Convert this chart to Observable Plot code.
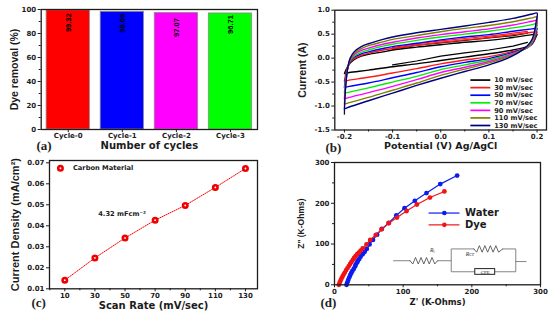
<!DOCTYPE html>
<html>
<head>
<meta charset="utf-8">
<script src="https://cdn.jsdelivr.net/npm/d3@7"></script>
<script src="https://cdn.jsdelivr.net/npm/@observablehq/plot@0.6"></script>
<style>
html,body{margin:0;padding:0;background:#fff;}
#root{position:relative;width:550px;height:313px;overflow:hidden;}
#root svg{position:absolute;display:block;overflow:visible;background:transparent;}
</style>
</head>
<body>
<div id="root"></div>
<script>
// Panel (a)
const cycles = ["Cycle-0","Cycle-1","Cycle-2","Cycle-3"];
const removal = [99.32,98.06,97.07,96.71];
const removalLabelY = [89,88.5,85,87.5];
const barColors = ["#ff0000","#0000ff","#ff00ff","#00ff00"];

// Panel (b)
const scanNames = ["10 mV/sec","30 mV/sec","50 mV/sec","70 mV/sec","90 mV/sec","110 mV/sec","130 mV/sec"];
const scanColors = ["#000000","#ff1a1a","#0000ff","#00ee00","#ff00ff","#808000","#000080"];
const upperX = [-0.2,-0.197,-0.193,-0.188,-0.18,-0.165,-0.15,-0.12,-0.1,-0.05,0,0.05,0.1,0.15,0.19,0.2];
const upper10  = [-0.32,-0.25,-0.17,-0.1,-0.03,0.04,0.08,0.13,0.17,0.23,0.28,0.33,0.37,0.43,0.49,0.5];
const upper30  = [-0.48,-0.32,-0.18,-0.08,-0.01,0.06,0.1,0.17,0.2,0.27,0.33,0.38,0.43,0.49,0.54,0.55];
const upper50  = [-0.61,-0.37,-0.2,-0.06,0.02,0.09,0.13,0.2,0.24,0.31,0.38,0.44,0.49,0.56,0.61,0.62];
const upper70  = [-0.73,-0.42,-0.2,-0.05,0.04,0.12,0.17,0.25,0.29,0.37,0.44,0.5,0.56,0.63,0.7,0.72];
const upper90  = [-0.85,-0.47,-0.2,-0.03,0.07,0.16,0.21,0.29,0.33,0.42,0.49,0.55,0.61,0.69,0.77,0.79];
const upper110 = [-0.96,-0.52,-0.2,-0.02,0.1,0.2,0.26,0.34,0.39,0.47,0.55,0.62,0.68,0.76,0.84,0.86];
const upper130 = [-1.06,-0.55,-0.2,0,0.13,0.24,0.3,0.39,0.44,0.53,0.6,0.67,0.745,0.83,0.92,0.94];
const lowerX = [0.2,0.198,0.195,0.19,0.18,0.15,0.1,0.05,0,-0.05,-0.1,-0.15,-0.19,-0.2];
const lower10  = [0.5,0.45,0.38,0.3,0.24,0.17,0.09,0.02,-0.05,-0.12,-0.18,-0.25,-0.3,-0.32];
const lower30  = [0.55,0.5,0.41,0.3,0.22,0.14,0.03,-0.04,-0.12,-0.22,-0.31,-0.4,-0.46,-0.48];
const lower50  = [0.62,0.55,0.44,0.31,0.22,0.12,-0.01,-0.09,-0.18,-0.3,-0.41,-0.52,-0.59,-0.61];
const lower70  = [0.72,0.6,0.47,0.33,0.22,0.1,-0.04,-0.14,-0.24,-0.38,-0.5,-0.62,-0.71,-0.73];
const lower90  = [0.79,0.65,0.5,0.35,0.23,0.09,-0.07,-0.19,-0.3,-0.45,-0.59,-0.72,-0.82,-0.85];
const lower110 = [0.86,0.7,0.53,0.37,0.24,0.07,-0.1,-0.23,-0.36,-0.52,-0.67,-0.82,-0.93,-0.96];
const lower130 = [0.94,0.75,0.57,0.4,0.26,0.05,-0.14,-0.28,-0.42,-0.57,-0.73,-0.89,-1.02,-1.06];
const upperAll = [upper10,upper30,upper50,upper70,upper90,upper110,upper130];
const lowerAll = [lower10,lower30,lower50,lower70,lower90,lower110,lower130];
// extra traces of the slow sweep and of the 30 mV/sec sweep, right of centre
const extraX = [-0.1,-0.05,0,0.05,0.1,0.15,0.18];
const extra10Upper = [0.19,0.27,0.32,0.37,0.42,0.47,0.52];
const extra10Lower = [-0.14,-0.06,0.04,0.11,0.17,0.25,0.33];
const extra30Upper = [0.22,0.3,0.36,0.41,0.46,0.52,0.56];

// Panel (c)
const scanRate = [10,30,50,70,90,110,130];
const density = [0.0141,0.0247,0.0342,0.0427,0.0497,0.0583,0.0673];

// Panel (d)
const waterX = [178.6,154,134,117,102,90,79,69,62,56,51,47,44,41,38,36,34,33,31,30,28,26,24.5,23,21.5,20,18.7,17.5];
const waterY = [268,247,225,206,188,170,152,137,123,110,99,88,81,75,69,63,59,55,50,45,39,34,29,24,18,12,6,0];
const dyeX = [160,139,120,105,91,79,68.5,60,52,46.6,41,38,35.5,33,30.6,28.6,26.7,24.7,22.8,20.9,19,17,15,13.3,11.6,10.1,8.7,7.5,6.3];
const dyeY = [229,214,197,181,165,151,136,122,110,99,89,84,79,75,70,66,61,56,51,46,41,36,30,25,20,15,10,5,0];

// Circuit inset of panel (d), in the panel's Z' / Z'' units
const wireParts = [
  [[86,59],[110,59]],
  [[150,59],[170,59],[170,88],[203,88]],
  [[170,59],[170,32],[205,32]],
  [[234,32],[264,32],[264,88],[245,88]],
  [[264,57],[279,57]]
];
const rsZig = [[110,59],[114,51],[118,67],[122,51],[126,67],[130,51],[134,67],[138,51],[142,67],[146,51],[150,59]];
const rctZig = [[203,88],[207,80],[211,96],[215,80],[219,96],[223,80],[227,96],[231,80],[235,96],[239,80],[245,88]];

const ink = "#1c1c1c";
const tickFont = {fontFamily:"DejaVu Sans",fontWeight:700,fontSize:"7px",color:ink,background:"transparent"};
const noText = ()=>"";

function place(plot,left,top){
  plot.style.left = left+"px";
  plot.style.top = top+"px";
  document.getElementById("root").appendChild(plot);
}
const yTitle = (t,dx,size)=>Plot.text([t],{frameAnchor:"left",textAnchor:"middle",text:d=>d,rotate:-90,dx,fontSize:size,fontFamily:"Liberation Sans",fontWeight:700,fill:ink});
const xTitle = (t,dy,size)=>Plot.text([t],{frameAnchor:"bottom",lineAnchor:"middle",text:d=>d,dy,fontSize:size,fontFamily:"DejaVu Sans",fontWeight:700,fill:ink});
const letter = (t,dx,dy)=>Plot.text([t],{frameAnchor:"bottom-left",lineAnchor:"middle",text:d=>d,textAnchor:"start",dx,dy,fontSize:13,fontFamily:"Liberation Serif",fontWeight:700,fill:"#222"});
const frame = ()=>Plot.frame({stroke:ink,strokeWidth:1.3});

// ---------- (a)
const aRows = cycles.map((c,i)=>({c,v:removal[i],ly:removalLabelY[i],col:barColors[i]}));
place(Plot.plot({
  width:275,height:157,marginLeft:40.7,marginRight:18,marginTop:9,marginBottom:28,
  style:tickFont,
  x:{type:"band",domain:cycles,paddingInner:0.2,paddingOuter:0.1,round:false,label:null},
  y:{domain:[0,100],label:null},
  marks:[
    Plot.barY(aRows,{x:"c",y:"v",fill:"col",stroke:"#8a8a8a",strokeWidth:0.8}),
    Plot.text(aRows,{x:"c",y:"ly",text:d=>d.v.toFixed(2),rotate:-90,fontSize:7.5,fontFamily:"Liberation Sans",fontWeight:700,fill:"#000"}),
    frame(),
    Plot.axisY({ticks:[0,20,40,60,80,100],tickSize:3,tickPadding:2,label:null}),
    Plot.axisY({ticks:[10,30,50,70,90],tickSize:2,tickFormat:noText,label:null}),
    Plot.axisX({tickSize:3,tickPadding:1,label:null}),
    yTitle("Dye removal (%)",-27,10.5),
    xTitle("Number of cycles",16,10),
    letter("(a)",-4.7,16)
  ]
}),0,0);

// ---------- (b)
const loopRows = scanNames.flatMap((s,k)=>[
  ...upperX.map((x,i)=>({s,x,y:upperAll[k][i]})),
  ...lowerX.slice(1).map((x,i)=>({s,x,y:lowerAll[k][i+1]}))
]);
const extraRows = [
  ...extraX.map((x,i)=>({s:scanNames[0],k:"a",x,y:extra10Upper[i]})),
  ...extraX.map((x,i)=>({s:scanNames[0],k:"b",x,y:extra10Lower[i]})),
  ...extraX.map((x,i)=>({s:scanNames[1],k:"c",x,y:extra30Upper[i]}))
];
const legendRows = scanNames.map((s,i)=>({s,col:scanColors[i],y:-0.458-0.158*i}));
place(Plot.plot({
  width:275,height:157,marginLeft:59.3,marginRight:4,marginTop:9.7,marginBottom:27.5,
  style:tickFont,
  x:{domain:[-0.22,0.2196],label:null},
  y:{domain:[-1.5,1],label:null},
  color:{domain:scanNames,range:scanColors},
  marks:[
    Plot.line(extraRows,{x:"x",y:"y",z:"k",stroke:"s",strokeWidth:1.2}),
    Plot.line(loopRows,{x:"x",y:"y",z:"s",stroke:"s",strokeWidth:1.4,curve:"catmull-rom"}),
    Plot.ruleX([-0.2],{y1:-1.06,y2:-1.19,stroke:"#101030",strokeWidth:1.3}),
    Plot.link(legendRows,{x1:()=>0.0615,x2:()=>0.103,y1:"y",y2:"y",stroke:d=>d.col,strokeWidth:1.7}),
    Plot.text(legendRows,{x:()=>0.111,y:"y",text:"s",textAnchor:"start",fontSize:6.7,fontFamily:"DejaVu Sans",fontWeight:700,fill:ink}),
    frame(),
    Plot.axisY({ticks:[-1.5,-1,-0.5,0,0.5,1],tickSize:3,tickPadding:2,tickFormat:d=>d.toFixed(1),label:null}),
    Plot.axisY({ticks:[-1.25,-0.75,-0.25,0.25,0.75],tickSize:2,tickFormat:noText,label:null}),
    Plot.axisX({ticks:[-0.2,-0.1,0,0.1,0.2],tickSize:3,tickPadding:1,tickFormat:d=>d.toFixed(1),label:null}),
    Plot.axisX({ticks:[-0.15,-0.05,0.05,0.15],tickSize:2,tickFormat:noText,label:null}),
    yTitle("Current (A)",-32,10.5),
    xTitle("Potential (V) Ag/AgCl",16,9.5),
    letter("(b)",-9.3,18)
  ]
}),275,0);

// ---------- (c)
const cRows = scanRate.map((x,i)=>({x,y:density[i]}));
place(Plot.plot({
  width:275,height:158,marginLeft:49,marginRight:18,marginTop:5,marginBottom:24.7,
  style:tickFont,
  x:{domain:[-0.16,138],label:null},
  y:{domain:[0.01,0.0711],label:null},
  marks:[
    Plot.line(cRows,{x:"x",y:"y",stroke:"#ff0000",strokeWidth:1,strokeDasharray:"1,1.2"}),
    Plot.dot(cRows,{x:"x",y:"y",r:2.2,fill:"#fff",stroke:"#f00000",strokeWidth:2.6}),
    Plot.dot([7.1],{x:d=>d,y:()=>0.0674,r:2.2,fill:"#fff",stroke:"#f00000",strokeWidth:2.6}),
    Plot.text(["Carbon Material"],{x:()=>15.4,y:()=>0.0674,text:d=>d,textAnchor:"start",fontSize:6.7,fontFamily:"DejaVu Sans",fontWeight:700,fill:ink}),
    Plot.text(["4.32 mFcm\u207B\u00B2"],{x:()=>32.2,y:()=>0.0455,text:d=>d,textAnchor:"start",fontSize:6.7,fontFamily:"DejaVu Sans",fontWeight:700,fill:ink}),
    frame(),
    Plot.axisY({ticks:[0.01,0.02,0.03,0.04,0.05,0.06,0.07],tickSize:3,tickPadding:2,tickFormat:d=>d.toFixed(2),label:null}),
    Plot.axisX({ticks:scanRate,tickSize:3,tickPadding:1,tickFormat:d=>d,label:null}),
    Plot.axisX({ticks:[0,20,40,60,80,100,120],tickSize:2,tickFormat:noText,label:null}),
    yTitle("Current Density (mA/cm\u00B2)",-34,11),
    xTitle("Scan Rate (mV/sec)",16.5,10),
    letter("(c)",-18,14)
  ]
}),0,155);

// ---------- (d)
const waterRows = waterX.map((x,i)=>({x,y:waterY[i]}));
const dyeRows = dyeX.map((x,i)=>({x,y:dyeY[i]}));
const segRows = wireParts.flatMap((p,k)=>p.map(([x,y])=>({x,y,k})));
const zigRows = [rsZig,rctZig].flatMap((p,k)=>p.map(([x,y])=>({x,y,k})));
place(Plot.plot({
  width:275,height:158,marginLeft:59,marginRight:10,marginTop:7,marginBottom:28.7,
  style:tickFont,
  x:{domain:[0,300],label:null},
  y:{domain:[0,300],label:null},
  marks:[
    Plot.line(waterRows,{x:"x",y:"y",stroke:"#0a1cf0",strokeWidth:1.2}),
    Plot.dot(waterRows,{x:"x",y:"y",r:2.4,fill:"#0a1cf0"}),
    Plot.line(dyeRows,{x:"x",y:"y",stroke:"#f01414",strokeWidth:1.2}),
    Plot.dot(dyeRows,{x:"x",y:"y",r:2.4,fill:"#f01414"}),
    Plot.link([176],{x1:()=>137,x2:()=>182,y1:d=>d,y2:d=>d,stroke:"#0a1cf0",strokeWidth:1.2}),
    Plot.dot([176],{x:()=>160,y:d=>d,r:2.3,fill:"#0a1cf0"}),
    Plot.link([147],{x1:()=>137,x2:()=>182,y1:d=>d,y2:d=>d,stroke:"#f01414",strokeWidth:1.2}),
    Plot.dot([147],{x:()=>160,y:d=>d,r:2.3,fill:"#f01414"}),
    Plot.text(["Water"],{x:()=>190,y:()=>176,text:d=>d,textAnchor:"start",fontSize:10,fontFamily:"DejaVu Sans",fontWeight:700,fill:ink}),
    Plot.text(["Dye"],{x:()=>190,y:()=>147,text:d=>d,textAnchor:"start",fontSize:10,fontFamily:"DejaVu Sans",fontWeight:700,fill:ink}),
    Plot.line(segRows,{x:"x",y:"y",z:"k",stroke:"#777",strokeWidth:0.9}),
    Plot.line(zigRows,{x:"x",y:"y",z:"k",stroke:"#555",strokeWidth:0.9}),
    Plot.rect([0],{x1:()=>205,x2:()=>234,y1:()=>24.5,y2:()=>38.5,fill:"#fff",stroke:"#222",strokeWidth:1}),
    Plot.text(["CPE"],{x:()=>219.5,y:()=>31.5,text:d=>d,fontSize:5,fontFamily:"Liberation Serif",fontWeight:400,fill:"#222"}),
    Plot.text(["R\u209B"],{x:()=>143,y:()=>84,text:d=>d,fontSize:5.5,fontFamily:"Liberation Serif",fontStyle:"italic",fontWeight:400,fill:"#333"}),
    Plot.text(["R\u1D04\u1D1B"],{x:()=>197,y:()=>74,text:d=>d,fontSize:5.5,fontFamily:"Liberation Serif",fontStyle:"italic",fontWeight:400,fill:"#333"}),
    frame(),
    Plot.axisY({ticks:[0,100,200,300],tickSize:3,tickPadding:2,label:null}),
    Plot.axisY({ticks:[50,150,250],tickSize:2,tickFormat:noText,label:null}),
    Plot.axisX({ticks:[0,100,200,300],tickSize:3,tickPadding:1,label:null}),
    Plot.axisX({ticks:[50,150,250],tickSize:2,tickFormat:noText,label:null}),
    yTitle("Z\" (K-Ohms)",-33,8.5),
    xTitle("Z' (K-Ohms)",17.5,8.5),
    letter("(d)",-14,18)
  ]
}),275,155);
</script>
</body>
</html>
